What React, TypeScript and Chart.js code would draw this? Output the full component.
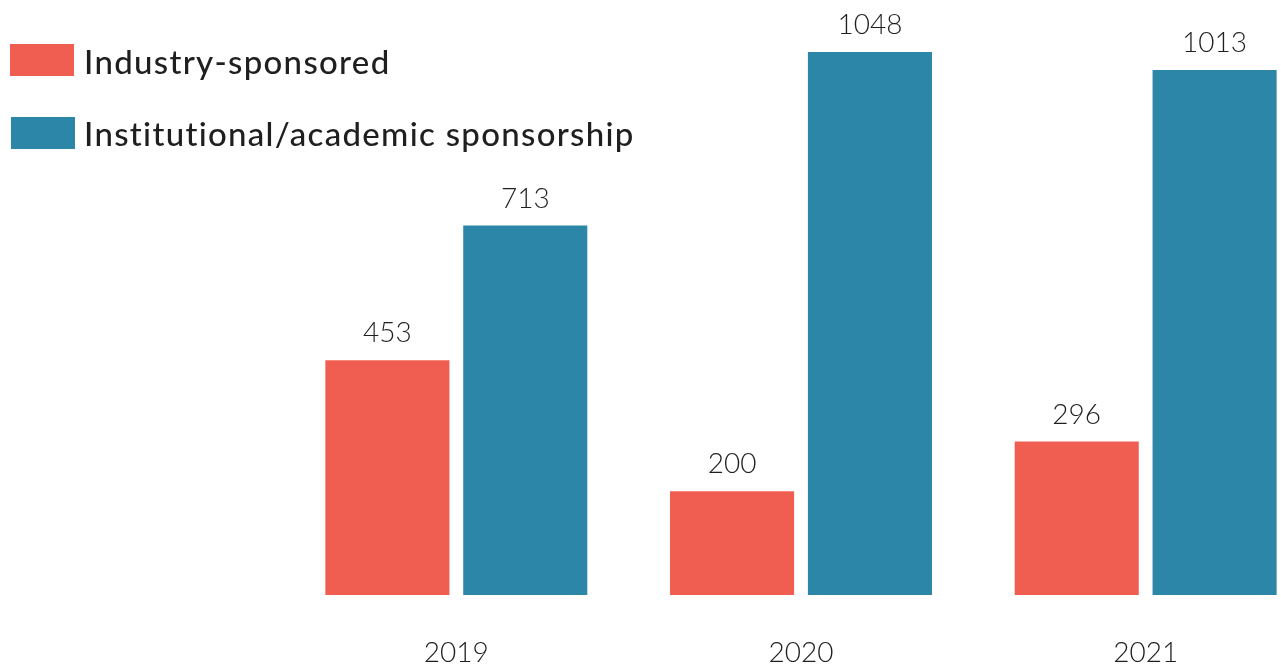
import React, { useEffect, useRef } from "react";
import { Chart, registerables } from "chart.js";

Chart.register(...registerables);

const years = ["2019", "2020", "2021"];
const industrySponsored = [453, 200, 296];
const academicSponsored = [713, 1048, 1013];
const seriesNames = ["Industry-sponsored", "Institutional/academic sponsorship"];
const seriesColors = ["#F05E51", "#2C86A8"];

const TEXT = "#1f1f1f";
const FONT = "Lato, 'Open Sans', sans-serif";

const valueLabels = {
  id: "valueLabels",
  afterDatasetsDraw(chart: any) {
    const ctx = chart.ctx;
    ctx.save();
    ctx.fillStyle = TEXT;
    ctx.font = `300 28px ${FONT}`;
    ctx.textAlign = "center";
    ctx.textBaseline = "alphabetic";
    chart.data.datasets.forEach((ds: any, i: number) => {
      const meta = chart.getDatasetMeta(i);
      meta.data.forEach((bar: any, j: number) => {
        ctx.fillText(String(ds.data[j]), bar.x, bar.y - 18);
      });
    });
    ctx.restore();
  },
};

const boxLegend = {
  id: "boxLegend",
  afterDraw(chart: any) {
    const ctx = chart.ctx;
    ctx.save();
    const rows = [
      { bx: 10, by: 44, ty: 74 },
      { bx: 11, by: 117, ty: 146 },
    ];
    chart.data.datasets.forEach((ds: any, i: number) => {
      const r = rows[i];
      ctx.fillStyle = ds.backgroundColor;
      ctx.fillRect(r.bx, r.by, 64, 32);
      ctx.fillStyle = TEXT;
      ctx.font = `500 33px ${FONT}`;
      (ctx as any).letterSpacing = "1.3px";
      ctx.textAlign = "left";
      ctx.textBaseline = "alphabetic";
      ctx.fillText(ds.label, 84, r.ty);
    });
    ctx.restore();
  },
};

export default function App() {
  const ref = useRef<HTMLCanvasElement>(null);
  useEffect(() => {
    if (!ref.current) return;
    const chart = new Chart(ref.current, {
      type: "bar",
      data: {
        labels: years,
        datasets: [
          { label: seriesNames[0], data: industrySponsored, backgroundColor: seriesColors[0] },
          { label: seriesNames[1], data: academicSponsored, backgroundColor: seriesColors[1] },
        ],
      },
      options: {
        responsive: false,
        maintainAspectRatio: false,
        animation: false,
        layout: { padding: { left: 284, right: 2, top: 25, bottom: 2 } },
        plugins: { legend: { display: false }, tooltip: { enabled: false } },
        scales: {
          x: {
            grid: { display: false, drawTicks: false },
            border: { display: false },
            ticks: {
              color: TEXT,
              padding: 44,
              font: { family: FONT, size: 28, weight: "300", lineHeight: 1 },
            },
          },
          y: { display: false, min: 0, max: 1100 },
        },
      },
      plugins: [valueLabels, boxLegend],
    });
    return () => chart.destroy();
  }, []);
  return (
    <div style={{ position: "absolute", left: 0, top: 0, width: 1281, height: 664, overflow: "hidden", background: "#fff" }}>
      <canvas ref={ref} width={1320} height={713} style={{ display: "block" }} />
    </div>
  );
}
